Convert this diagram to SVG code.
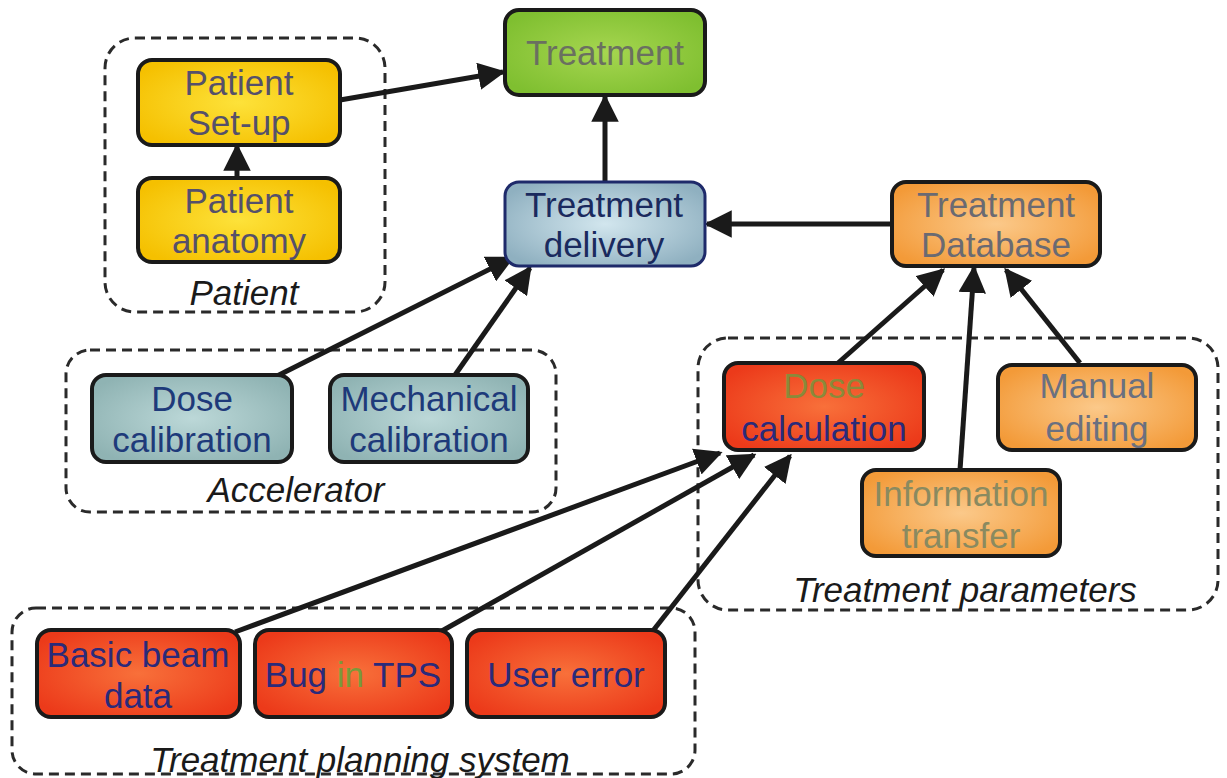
<svg xmlns="http://www.w3.org/2000/svg" width="1227" height="778" viewBox="0 0 1227 778">
<defs>
<radialGradient id="gGold" cx="50%" cy="50%" r="60%"><stop offset="0" stop-color="#fde23a"/><stop offset="1" stop-color="#f5c000"/></radialGradient>
<radialGradient id="gGreen" cx="50%" cy="50%" r="60%"><stop offset="0" stop-color="#a6d650"/><stop offset="1" stop-color="#7fbf30"/></radialGradient>
<radialGradient id="gBlue" cx="50%" cy="50%" r="60%"><stop offset="0" stop-color="#d2e6ee"/><stop offset="1" stop-color="#8fb0c0"/></radialGradient>
<radialGradient id="gTeal" cx="50%" cy="50%" r="60%"><stop offset="0" stop-color="#bcd8d8"/><stop offset="1" stop-color="#8fb3b3"/></radialGradient>
<radialGradient id="gOrange" cx="50%" cy="50%" r="60%"><stop offset="0" stop-color="#fbc98a"/><stop offset="1" stop-color="#f39a38"/></radialGradient>
<radialGradient id="gRed" cx="50%" cy="50%" r="60%"><stop offset="0" stop-color="#f8703a"/><stop offset="1" stop-color="#ec3a1a"/></radialGradient>
<marker id="arr" viewBox="0 0 10 10" refX="9" refY="5" markerWidth="5.5" markerHeight="5.5" orient="auto" markerUnits="strokeWidth"><path d="M0,0 L10,5 L0,10 Z" fill="#1a1a1a"/></marker>
<style>
.grp{fill:none;stroke:#2a2a2a;stroke-width:3;stroke-dasharray:10,6}
.gl{font-family:"Liberation Sans",Arial,sans-serif;font-style:italic;font-size:35px;fill:#1a1a1a;text-anchor:middle}
.nd{stroke:#1a1a1a;stroke-width:4}
.t{font-family:"Liberation Sans",Arial,sans-serif;font-size:35px;text-anchor:middle}
.c line{stroke:#1a1a1a;stroke-width:5;marker-end:url(#arr)}
</style>
</defs>
<rect width="1227" height="778" fill="#ffffff"/>

<g id="groups">
<rect class="grp" x="105" y="38" width="280" height="274" rx="30"/>
<text class="gl" x="244" y="305">Patient</text>
<rect class="grp" x="66" y="350" width="490" height="162" rx="24"/>
<text class="gl" x="296" y="502">Accelerator</text>
<rect class="grp" x="698" y="338" width="520" height="272" rx="30"/>
<text class="gl" x="965" y="602">Treatment parameters</text>
<rect class="grp" x="12" y="608" width="683" height="166" rx="24"/>
<text class="gl" x="360" y="772">Treatment planning system</text>
</g>

<g class="c" id="connectors">
<line x1="340" y1="100" x2="503" y2="72"/>
<line x1="237" y1="178" x2="237" y2="146"/>
<line x1="605" y1="182" x2="605" y2="97"/>
<line x1="892" y1="224" x2="707" y2="224"/>
<line x1="275" y1="377" x2="512" y2="258"/>
<line x1="455" y1="375" x2="530" y2="268"/>
<line x1="838" y1="363" x2="943" y2="270"/>
<line x1="960" y1="470" x2="974" y2="268"/>
<line x1="1080" y1="363" x2="1006" y2="270"/>
<line x1="235" y1="632" x2="720" y2="453"/>
<line x1="440" y1="632" x2="754" y2="455"/>
<line x1="652" y1="632" x2="790" y2="456"/>
</g>

<g id="n-setup">
<rect class="nd" x="138" y="60" width="202" height="85" rx="14" fill="url(#gGold)"/>
<text class="t" x="239" y="95" fill="#55506a">Patient</text>
<text class="t" x="239" y="135" fill="#55506a">Set-up</text>
</g>
<g id="n-anatomy">
<rect class="nd" x="138" y="178" width="202" height="84" rx="14" fill="url(#gGold)"/>
<text class="t" x="239" y="213" fill="#55506a">Patient</text>
<text class="t" x="239" y="253" fill="#55506a">anatomy</text>
</g>
<g id="n-treatment">
<rect class="nd" x="505" y="10" width="200" height="85" rx="14" fill="url(#gGreen)"/>
<text class="t" x="605" y="65" fill="#6a7060">Treatment</text>
</g>
<g id="n-delivery">
<rect x="505" y="182" width="200" height="84" rx="14" fill="url(#gBlue)" stroke="#1e2a6a" stroke-width="3"/>
<text class="t" x="604" y="217" fill="#1a2a5e">Treatment</text>
<text class="t" x="604" y="257" fill="#1a2a5e">delivery</text>
</g>
<g id="n-database">
<rect class="nd" x="892" y="182" width="208" height="84" rx="14" fill="url(#gOrange)"/>
<text class="t" x="996" y="217" fill="#6a6a72">Treatment</text>
<text class="t" x="996" y="257" fill="#6a6a72">Database</text>
</g>
<g id="n-dosecal">
<rect class="nd" x="92" y="375" width="200" height="87" rx="14" fill="url(#gTeal)"/>
<text class="t" x="192" y="411" fill="#1e3a7a">Dose</text>
<text class="t" x="192" y="452" fill="#1e3a7a">calibration</text>
</g>
<g id="n-mech">
<rect class="nd" x="330" y="375" width="198" height="87" rx="14" fill="url(#gTeal)"/>
<text class="t" x="429" y="411" fill="#1e3a7a">Mechanical</text>
<text class="t" x="429" y="452" fill="#1e3a7a">calibration</text>
</g>
<g id="n-dosecalc">
<rect class="nd" x="724" y="363" width="200" height="87" rx="14" fill="url(#gRed)"/>
<text class="t" x="824" y="398" fill="#8a8a3a">Dose</text>
<text class="t" x="824" y="441" fill="#2a2a7a">calculation</text>
</g>
<g id="n-manual">
<rect class="nd" x="998" y="365" width="198" height="85" rx="14" fill="url(#gOrange)"/>
<text class="t" x="1097" y="398" fill="#6a7080">Manual</text>
<text class="t" x="1097" y="441" fill="#6a7080">editing</text>
</g>
<g id="n-info">
<rect class="nd" x="862" y="470" width="198" height="86" rx="14" fill="url(#gOrange)"/>
<text class="t" x="961" y="506" fill="#8a8a60">Information</text>
<text class="t" x="961" y="548" fill="#8a8a60">transfer</text>
</g>
<g id="n-beam">
<rect class="nd" x="37" y="630" width="203" height="87" rx="14" fill="url(#gRed)"/>
<text class="t" x="138" y="667" fill="#2a2a7a">Basic beam</text>
<text class="t" x="138" y="708" fill="#2a2a7a">data</text>
</g>
<g id="n-bug">
<rect class="nd" x="255" y="630" width="197" height="87" rx="14" fill="url(#gRed)"/>
<text class="t" x="353" y="687" fill="#2a2a7a">Bug <tspan fill="#7a9a3a">in</tspan> TPS</text>
</g>
<g id="n-user">
<rect class="nd" x="467" y="630" width="198" height="87" rx="14" fill="url(#gRed)"/>
<text class="t" x="566" y="687" fill="#2a2a7a">User error</text>
</g>
</svg>
